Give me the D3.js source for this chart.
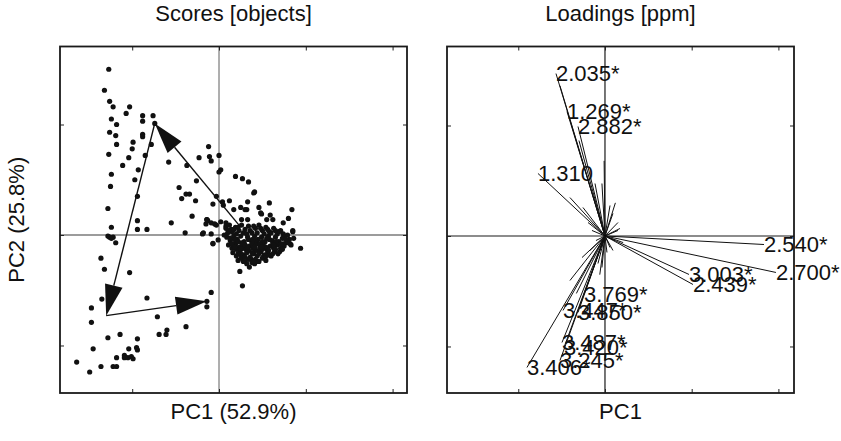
<!DOCTYPE html>
<html>
<head>
<meta charset="utf-8">
<script src="https://cdn.jsdelivr.net/npm/d3@7"></script>
<style>
  html, body { margin: 0; padding: 0; background: #fff; }
  svg text { font-family: "Liberation Sans", Arial, Helvetica, sans-serif; fill: #111; }
</style>
</head>
<body>
<svg id="chart" width="841" height="441"></svg>
<script>
// ---- PCA scores (objects) : scattered objects outside the main cluster ----
const scoresOuter = [
  [-12.7,15.0],[-13.2,13.1],[-12.6,12.1],[-12.2,11.6],[-10.3,11.6],[-10.7,11.0],[-8.8,10.8],[-7.6,10.8],
  [-12.4,10.5],[-8.8,10.3],[-7.4,10.1],[-11.8,10.0],[-12.6,9.3],[-11.9,9.0],[-8.8,9.1],[-8.8,8.9],
  [-9.9,8.4],[-11.8,8.2],[-7.8,8.2],[-10.0,7.8],[-12.7,7.3],[-8.5,7.2],[-10.4,7.0],[-11.1,6.3],
  [-5.8,6.6],[-9.3,5.9],[-3.7,6.3],[-2.3,7.0],[-1.2,8.0],[-1.1,7.1],[-0.9,6.7],[0.0,7.2],
  [0.2,5.9],[0.0,5.7],[1.9,5.3],[-12.4,5.5],[-9.7,5.0],[-12.5,4.4],[-4.6,4.3],[-2.6,4.9],
  [-3.8,3.7],[-3.4,3.7],[-4.3,3.3],[-9.4,3.5],[-2.7,3.1],[-0.7,2.8],[-0.3,3.5],[0.4,3.0],
  [1.2,3.1],[0.5,2.7],[1.7,2.3],[-12.8,2.4],[-3.1,1.7],[-9.4,1.3],[-5.5,1.1],[-12.4,0.7],
  [-9.4,0.5],[-8.3,0.5],[-1.4,1.4],[-1.5,1.0],[-0.9,1.1],[-0.3,0.9],[0.2,1.2],[0.8,0.8],
  [-3.9,0.2],[-1.9,0.1],[-12.6,-0.2],[-12.2,-0.2],[2.7,5.1],[3.4,4.8],[4.0,3.8],[4.1,3.9],
  [2.5,2.5],[3.3,3.0],[3.2,2.3],[4.6,2.5],[5.8,2.9],[4.9,1.9],[5.9,1.8],[5.5,1.4],
  [8.4,2.3],[8.0,1.5],[7.4,1.1],[8.5,0.4],[2.6,1.4],[3.3,1.4],[0.8,1.1],[-1.3,1.3],
  [-1.8,0.2],[-0.9,0.1],[-0.7,-0.75],[2.4,-3.3],[2.7,-4.6],[3.5,-2.9],[3.7,-2.2],[4.1,-2.6],
  [4.5,-2.4],[5.1,-2.0],[9.4,-1.2],[8.2,-0.8],[8.5,0.3],[7.4,0.1],[-0.7,-0.8],[-0.1,-0.45],
  [2.6,-2.0],[3.0,2.3],[4.8,2.0],[6.2,1.4],[-1.4,1.4],[-0.5,1.0],
  [-12.8,-0.1],[-12.4,-0.3],[-11.9,-0.7],[-13.6,-2.1],[-13.2,-3.1],[-10.3,-3.4],[-13.5,-5.8],
  [-14.7,-6.6],[-14.7,-7.9],[-8.3,-5.7],[-7.1,-7.4],[-6.0,-8.6],[-6.9,-9.0],[-6.1,-9.0],[-3.8,-8.3],
  [-1.4,-6.0],[-1.4,-6.5],[-0.9,-5.2],[-12.8,-9.3],[-11.4,-9.0],[-9.4,-9.4],[-14.5,-10.3],[-10.4,-10.3],
  [-9.5,-10.2],[-9.4,-10.4],[-11.8,-11.1],[-10.9,-10.9],[-10.9,-11.1],[-10.5,-11.1],[-10.1,-11.0],[-9.9,-11.2],
  [-16.4,-11.5],[-13.6,-11.9],[-12.2,-11.9],[-11.8,-11.9],[-14.9,-12.4]
];

// ---- PCA scores : dense main cluster right of the origin ----
const scoresCluster = [
  [0.8,0.6],[1.2,0.9],[1.5,0.3],[1.9,0.7],[2.3,0.4],[2.6,0.9],[3.0,0.5],[3.4,0.8],[3.8,0.2],[4.2,0.6],
  [4.6,0.9],[5.0,0.4],[5.4,0.7],[5.8,0.3],[6.3,0.6],[6.7,0.1],[7.1,0.4],[7.6,-0.1],
  [0.9,-0.2],[1.3,-0.5],[1.7,-0.1],[2.1,-0.4],[2.5,-0.1],[2.9,-0.6],[3.3,-0.2],[3.7,-0.5],[4.1,-0.1],
  [4.5,-0.4],[4.9,-0.2],[5.3,-0.6],[5.7,-0.1],[6.1,-0.5],[6.5,-0.2],[6.9,-0.6],[7.3,-0.3],[7.8,-0.7],[8.1,-0.4],
  [1.1,-0.9],[1.5,-1.2],[1.9,-0.8],[2.3,-1.1],[2.7,-0.9],[3.1,-1.3],[3.5,-1.0],[3.9,-1.2],[4.3,-0.8],
  [4.7,-1.1],[5.1,-0.9],[5.5,-1.3],[5.9,-1.0],[6.3,-1.2],[6.7,-0.9],[7.1,-1.2],[7.5,-1.0],
  [1.6,-1.6],[2.0,-1.9],[2.4,-1.5],[2.8,-1.8],[3.2,-1.6],[3.6,-2.0],[4.0,-1.7],[4.4,-1.9],[4.8,-1.5],
  [5.2,-1.8],[5.6,-1.6],[6.0,-1.9],[6.4,-1.5],[6.8,-1.7],
  [2.2,-2.3],[2.6,-2.1],[3.0,-2.4],[3.4,-2.2],[3.8,-2.5],[4.2,-2.2],[4.6,-2.4],[5.0,-2.1],[5.4,-2.3],
  [1.0,0.2],[1.4,0.5],[2.0,0.1],[2.8,0.2],[3.6,0.4],[4.4,0.2],[5.2,0.1],[6.0,0.2],[6.9,0.3],
  [1.8,-0.4],[2.6,-0.7],[3.4,-0.4],[4.2,-0.5],[5.0,-0.6],[5.8,-0.4],[6.6,-0.6],[7.4,-0.8],
  [2.0,-1.3],[2.9,-1.2],[3.8,-0.8],[4.6,-1.4],[5.4,-1.1],[6.2,-0.8],[7.0,-1.5],
  [2.5,-1.7],[3.4,-1.4],[4.2,-1.4],[5.0,-1.3],[5.8,-1.8],[1.3,-0.3],[0.6,0.0],[7.9,0.0],[8.3,-0.9],[8.6,-0.3],
  [1.1,0.4],[1.7,0.5],[2.2,0.7],[3.2,0.1],[4.0,0.8],[4.8,0.6],[5.6,0.5],[6.5,0.4],
  [1.5,-0.8],[2.2,-0.6],[3.0,-0.9],[3.9,-0.4],[4.7,-0.8],[5.5,-0.3],[6.3,-0.9],[7.1,-0.8],[7.7,-0.4],
  [1.8,-1.1],[2.5,-1.3],[3.3,-1.1],[4.1,-1.1],[4.9,-1.1],[5.7,-1.4],[6.5,-1.3],[7.3,-1.3],
  [2.2,-1.7],[3.0,-2.0],[3.8,-1.6],[4.6,-1.7],[5.4,-1.9],[6.2,-1.7],[3.2,-2.6],[4.0,-2.4],[2.8,-2.4]
];

// ---- trajectory through the score space (arrows) ----
const trajectory = [[2.4,0.8],[-7.4,10.1],[-13.0,-7.3],[-1.4,-6.0]];

// ---- PCA loadings (ppm) with labels ----
const loadingLabels = ["2.035*","1.269*","2.882*","1.310","2.540*","2.700*","3.003*","2.439*",
                       "3.769*","3.447*","3.850*","3.487*","3.420*","3.245*","3.406*"];
const loadingX = [-0.0565,-0.0438,-0.0311,-0.0773,0.1834,0.1972,0.0969,0.1015,
                  -0.0242,-0.0484,-0.0311,-0.0496,-0.0473,-0.0519,-0.0900];
const loadingY = [0.1470,0.1127,0.0991,0.0566,-0.0077,-0.0330,-0.0348,-0.0439,
                  -0.0529,-0.0674,-0.0692,-0.0964,-0.1009,-0.1127,-0.1190];

// ---- remaining (unlabelled) loadings ----
const otherLoadX = [-0.0115,-0.0035,-0.0404,-0.0254,0.0092,0.0150,0.0058,0.0173,0.0115,0.0150,
                    0.0058,0.0023,-0.0265,-0.0173,0.0092,-0.0081,-0.0035,-0.0404,-0.0150,-0.0104,
                    -0.0196,-0.0519,-0.0300,-0.0010,0.0210,-0.0330,0.0120,-0.0060];
const otherLoadY = [0.0475,0.0475,0.0348,0.0258,0.0204,0.0122,0.0276,0.0068,-0.0041,0.0050,
                    -0.0104,-0.0149,-0.0195,-0.0131,-0.0131,-0.0249,-0.0285,-0.0403,0.0050,-0.0041,
                    0.0122,0.1360,0.0864,0.0680,-0.0060,-0.0520,0.0300,-0.0350];

const xTicksScores = [-10, 0, 10, 20];
const yTicksScores = [-10, 0, 10];
const xTicksLoad = [-0.1, 0, 0.1, 0.2];
const yTicksLoad = [-0.1, 0, 0.1];

const svg = d3.select("#chart");
const FONT_TITLE = 22;
const FONT_LABEL = 22;

// panel frames
const P1 = {x0: 60, x1: 407, y0: 46.5, y1: 393};
const P2 = {x0: 447, x1: 794, y0: 46.5, y1: 393};

const xS = d3.scaleLinear().domain([-18.32, 21.66]).range([P1.x0, P1.x1]);
const yS = d3.scaleLinear().domain([-14.3, 17.06]).range([P1.y1, P1.y0]);
const xL = d3.scaleLinear().domain([-0.1822, 0.2180]).range([P2.x0, P2.x1]);
const yL = d3.scaleLinear().domain([-0.1421, 0.1715]).range([P2.y1, P2.y0]);

function frame(P, xs, ys, xt, yt, zeroVStroke, zeroHStroke) {
  const g = svg.append("g");
  // zero lines
  g.append("line").attr("x1", xs(0)).attr("x2", xs(0)).attr("y1", P.y0).attr("y2", P.y1)
    .attr("stroke", zeroVStroke).attr("stroke-width", 1.2);
  g.append("line").attr("x1", P.x0).attr("x2", P.x1).attr("y1", ys(0)).attr("y2", ys(0))
    .attr("stroke", zeroHStroke).attr("stroke-width", 1.2);
  // inward ticks on all four sides
  const mk = (axis, tx, ty) => {
    const a = g.append("g").attr("transform", `translate(${tx},${ty})`).call(axis);
    a.select(".domain").remove();
    a.selectAll("text").remove();
    a.selectAll("line").attr("stroke", "#222").attr("stroke-width", 1);
  };
  mk(d3.axisBottom(xs).tickValues(xt).tickSize(-4), 0, P.y1);
  mk(d3.axisTop(xs).tickValues(xt).tickSize(-4), 0, P.y0);
  mk(d3.axisLeft(ys).tickValues(yt).tickSize(-4), P.x0, 0);
  mk(d3.axisRight(ys).tickValues(yt).tickSize(-4), P.x1, 0);
  return g;
}

function box(P) {
  svg.append("rect").attr("x", P.x0).attr("y", P.y0)
    .attr("width", P.x1 - P.x0).attr("height", P.y1 - P.y0)
    .attr("fill", "none").attr("stroke", "#1a1a1a").attr("stroke-width", 1.8);
}

// ---------------- left panel : scores ----------------
frame(P1, xS, yS, xTicksScores, yTicksScores, "#7a7a7a", "#3a3a3a");

svg.append("clipPath").attr("id", "c1").append("rect")
  .attr("x", P1.x0).attr("y", P1.y0).attr("width", P1.x1 - P1.x0).attr("height", P1.y1 - P1.y0);

const dots = svg.append("g").attr("clip-path", "url(#c1)");
dots.selectAll("circle").data(scoresOuter.concat(scoresCluster)).join("circle")
  .attr("cx", d => xS(d[0])).attr("cy", d => yS(d[1])).attr("r", 2.6)
  .attr("fill", "#111");

// arrows along the trajectory
function arrow(g, a, b, len, half) {
  const x1 = xS(a[0]), y1 = yS(a[1]), x2 = xS(b[0]), y2 = yS(b[1]);
  const dx = x2 - x1, dy = y2 - y1, L = Math.hypot(dx, dy);
  const ux = dx / L, uy = dy / L, bx = x2 - ux * len, by = y2 - uy * len;
  g.append("line").attr("x1", x1).attr("y1", y1).attr("x2", bx).attr("y2", by)
    .attr("stroke", "#111").attr("stroke-width", 1.4);
  g.append("path")
    .attr("d", `M${x2},${y2}L${bx - uy * half},${by + ux * half}L${bx + uy * half},${by - ux * half}Z`)
    .attr("fill", "#111");
}
const arrG = svg.append("g");
for (let i = 0; i < trajectory.length - 1; i++) arrow(arrG, trajectory[i], trajectory[i + 1], 31, 9);

box(P1);

// ---------------- right panel : loadings ----------------
frame(P2, xL, yL, xTicksLoad, yTicksLoad, "#1a1a1a", "#1a1a1a");

const lg = svg.append("g");
const others = otherLoadX.map((x, i) => [x, otherLoadY[i]]);
lg.selectAll("line.u").data(others).join("line").attr("class", "u")
  .attr("x1", xL(0)).attr("y1", yL(0)).attr("x2", d => xL(d[0])).attr("y2", d => yL(d[1]))
  .attr("stroke", "#111").attr("stroke-width", 1);

const labelled = loadingLabels.map((t, i) => ({t, x: loadingX[i], y: loadingY[i]}));
lg.selectAll("line.l").data(labelled).join("line").attr("class", "l")
  .attr("x1", xL(0)).attr("y1", yL(0)).attr("x2", d => xL(d.x)).attr("y2", d => yL(d.y))
  .attr("stroke", "#111").attr("stroke-width", 1);
lg.selectAll("text").data(labelled).join("text")
  .attr("x", d => xL(d.x)).attr("y", d => yL(d.y))
  .attr("dy", "0.36em").attr("font-size", FONT_LABEL)
  .text(d => d.t);

box(P2);

// ---------------- titles ----------------
const cx1 = (P1.x0 + P1.x1) / 2, cx2 = (P2.x0 + P2.x1) / 2;
svg.append("text").attr("x", cx1).attr("y", 21).attr("text-anchor", "middle")
  .attr("font-size", FONT_TITLE).text("Scores [objects]");
svg.append("text").attr("x", cx2).attr("y", 21).attr("text-anchor", "middle")
  .attr("font-size", FONT_TITLE).text("Loadings [ppm]");
svg.append("text").attr("x", cx1).attr("y", 419).attr("text-anchor", "middle")
  .attr("font-size", FONT_TITLE).text("PC1 (52.9%)");
svg.append("text").attr("x", cx2).attr("y", 419).attr("text-anchor", "middle")
  .attr("font-size", FONT_TITLE).text("PC1");
svg.append("text").attr("transform", `translate(24,${(P1.y0 + P1.y1) / 2}) rotate(-90)`)
  .attr("text-anchor", "middle").attr("font-size", FONT_TITLE).text("PC2 (25.8%)");
</script>
</body>
</html>
